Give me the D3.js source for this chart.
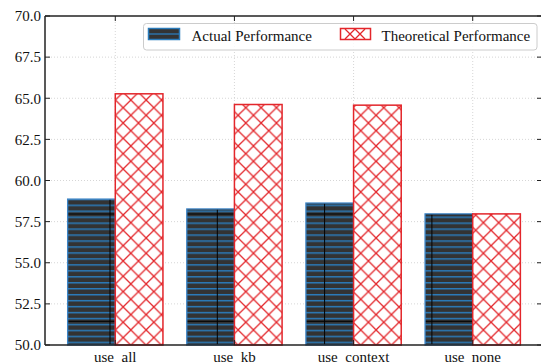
<!DOCTYPE html>
<html>
<head>
<meta charset="utf-8">
<script src="https://cdnjs.cloudflare.com/ajax/libs/d3/7.8.5/d3.min.js"></script>
<style>
html,body{margin:0;padding:0;background:#fff;}
svg{display:block;}
</style>
</head>
<body>
<script>
const categories = ["use_all", "use_kb", "use_context", "use_none"];
const actual = [58.87, 58.27, 58.63, 57.97];
const theoretical = [65.27, 64.62, 64.58, 57.97];
const yTicks = [50.0, 52.5, 55.0, 57.5, 60.0, 62.5, 65.0, 67.5, 70.0];
const seriesNames = ["Actual Performance", "Theoretical Performance"];

(function () {
const W = 541, H = 363;
const FONT = "'Liberation Serif', 'Times New Roman', Times, 'DejaVu Serif', serif";
const svg = d3.select("body").append("svg").attr("width", W).attr("height", H)
  .style("font-family", FONT);

const pL = 45, pR = 543, pT = 16, pB = 345;
const x = d3.scaleLinear().domain([-0.59, 3.59]).range([pL, pR]);
const y = d3.scaleLinear().domain([50, 70]).range([pB, pT]);
const barW = 0.4;

const defs = svg.append("defs");
const T = 107.3;
const pd = defs.append("pattern").attr("id", "darkHatch")
  .attr("patternUnits", "userSpaceOnUse")
  .attr("x", 109.5).attr("y", 213.5).attr("width", T).attr("height", T);
pd.append("rect").attr("width", T).attr("height", T).attr("fill", "#333333");
for (let k = 0; k < 18; k++) {
  const yy = 3.7 + k * T / 18;
  pd.append("line").attr("x1", 0).attr("x2", T).attr("y1", yy).attr("y2", yy)
    .attr("stroke", "#2b7bba").attr("stroke-width", 1.3);
}
pd.append("line").attr("x1", 0.5).attr("x2", 0.5).attr("y1", 0).attr("y2", T)
  .attr("stroke", "#000").attr("stroke-width", 1);
pd.append("line").attr("x1", 0).attr("x2", T).attr("y1", 0.5).attr("y2", 0.5)
  .attr("stroke", "#000").attr("stroke-width", 1);

const s = T / 7;
const pr = defs.append("pattern").attr("id", "redHatch")
  .attr("patternUnits", "userSpaceOnUse")
  .attr("x", 115.5).attr("y", 100).attr("width", s).attr("height", s);
pr.append("rect").attr("width", s).attr("height", s).attr("fill", "#fff");
pr.append("path")
  .attr("d", `M0,0L${s},${s}M0,${s}L${s},0`)
  .attr("stroke", "#e3262b").attr("stroke-width", 1.3).attr("fill", "none");

const g = svg.append("g");
g.selectAll(".hg").data(yTicks.slice(1, -1)).enter().append("line")
  .attr("x1", pL).attr("x2", pR).attr("y1", d => y(d)).attr("y2", d => y(d))
  .attr("stroke", "#cccccc").attr("stroke-width", 0.8).attr("stroke-dasharray", "1,2");
g.selectAll(".vg").data(categories).enter().append("line")
  .attr("x1", (d, i) => x(i)).attr("x2", (d, i) => x(i)).attr("y1", pT).attr("y2", pB)
  .attr("stroke", "#cccccc").attr("stroke-width", 0.8).attr("stroke-dasharray", "1,2");

svg.append("g").selectAll("rect").data(actual).enter().append("rect")
  .attr("x", (d, i) => x(i - barW)).attr("y", d => y(d))
  .attr("width", (d, i) => x(i) - x(i - barW)).attr("height", d => y(50) - y(d))
  .attr("fill", "url(#darkHatch)").attr("stroke", "#3d85c6").attr("stroke-width", 1.3);
svg.append("g").selectAll("rect").data(theoretical).enter().append("rect")
  .attr("x", (d, i) => x(i)).attr("y", d => y(d))
  .attr("width", (d, i) => x(i + barW) - x(i)).attr("height", d => y(50) - y(d))
  .attr("fill", "url(#redHatch)").attr("stroke", "#e3262b").attr("stroke-width", 1.5);

const sp = svg.append("g").attr("stroke", "#222").attr("stroke-width", 1.5);
sp.append("line").attr("x1", pL).attr("x2", pR).attr("y1", pT).attr("y2", pT);
sp.append("line").attr("x1", pL).attr("x2", pR).attr("y1", pB).attr("y2", pB);
sp.append("line").attr("x1", pL).attr("x2", pL).attr("y1", pT).attr("y2", pB);
sp.append("line").attr("x1", pR).attr("x2", pR).attr("y1", pT).attr("y2", pB);

const tk = svg.append("g").attr("stroke", "#222").attr("stroke-width", 1);
yTicks.forEach(v => {
  tk.append("line").attr("x1", pL).attr("x2", pL + 5).attr("y1", y(v)).attr("y2", y(v));
  tk.append("line").attr("x1", pR - 6).attr("x2", pR).attr("y1", y(v)).attr("y2", y(v));
});
categories.forEach((c, i) => {
  tk.append("line").attr("x1", x(i)).attr("x2", x(i)).attr("y1", pT).attr("y2", pT + 5);
  tk.append("line").attr("x1", x(i)).attr("x2", x(i)).attr("y1", pB).attr("y2", pB - 5);
});

svg.append("g").selectAll("text").data(yTicks).enter().append("text")
  .attr("x", 41).attr("y", d => y(d)).attr("dy", "0.35em")
  .attr("text-anchor", "end").attr("font-size", 15).attr("fill", "#111")
  .attr("font-family", FONT).text(d => d.toFixed(1));
svg.append("g").selectAll("text").data(categories).enter().append("text")
  .attr("x", (d, i) => x(i)).attr("y", 362.3)
  .attr("text-anchor", "middle").attr("font-size", 15).attr("fill", "#111")
  .attr("font-family", FONT).text(d => d);

const lg = svg.append("g");
lg.append("rect").attr("x", 143.5).attr("y", 23.5).attr("width", 393.5).attr("height", 26.5)
  .attr("rx", 3).attr("fill", "#fff").attr("fill-opacity", 0.85)
  .attr("stroke", "#cccccc").attr("stroke-width", 1);
lg.append("rect").attr("x", 148.5).attr("y", 28.5).attr("width", 31).attr("height", 11)
  .attr("fill", "#333").attr("stroke", "#2b7bba").attr("stroke-width", 1.5);
lg.append("line").attr("x1", 149).attr("x2", 179).attr("y1", 34).attr("y2", 34)
  .attr("stroke", "#2b7bba").attr("stroke-width", 1.3);
lg.append("text").attr("x", 191.5).attr("y", 41).attr("font-size", 15).attr("fill", "#111")
  .attr("font-family", FONT).text(seriesNames[0]);
lg.append("rect").attr("x", 340.5).attr("y", 28.5).attr("width", 30).attr("height", 11)
  .attr("fill", "#fff").attr("stroke", "#e3262b").attr("stroke-width", 1.5);
lg.append("path").attr("d", "M345,29L355,39M345,39L355,29M355,29L365,39M355,39L365,29")
  .attr("stroke", "#e3262b").attr("stroke-width", 1.3).attr("fill", "none");
lg.append("text").attr("x", 381.5).attr("y", 41).attr("font-size", 15).attr("fill", "#111")
  .attr("font-family", FONT).text(seriesNames[1]);
})();
</script>
</body>
</html>
